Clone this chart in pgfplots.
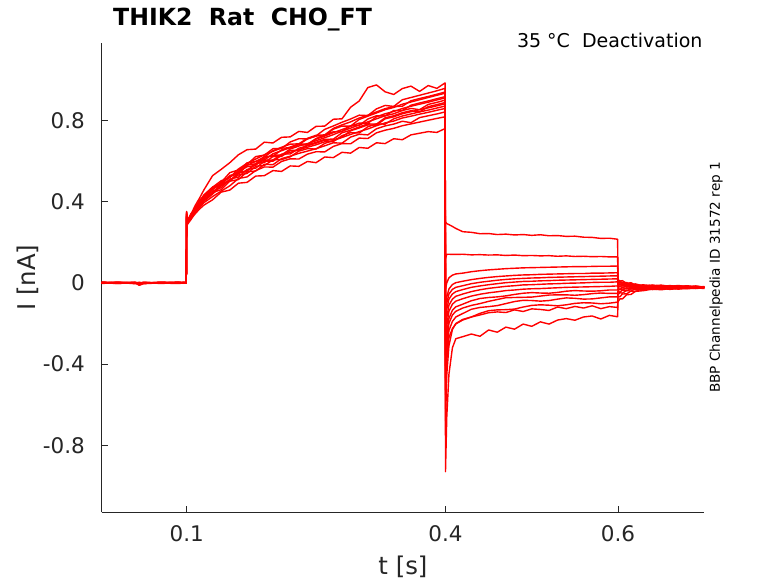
\documentclass[border=0pt]{standalone}
\usepackage{pgfplots}
\pgfplotsset{compat=1.18}
\usepackage{pgfplotstable}
\usepackage{fontspec}
\setmainfont{DejaVu Sans}
\definecolor{axgray}{HTML}{262626}

\pgfplotstableread{
t a b c d e f g h i j k l m n
0.0015 0.002 -0.001 0.003 0.000 -0.002 0.001 0.004 -0.003 0.002 -0.001 0.000 0.003 -0.002 0.001
0.020 -0.002 0.003 0.000 -0.003 0.002 -0.001 0.001 0.002 -0.003 0.004 -0.001 0.000 0.002 -0.002
0.040 0.001 -0.002 0.002 0.001 -0.004 0.003 -0.001 0.000 0.002 -0.003 0.001 -0.002 0.003 0.000
0.045 -0.003 0.000 -0.002 -0.012 0.001 -0.004 0.002 -0.010 -0.001 0.002 -0.003 0.001 -0.002 0.002
0.050 0.002 0.001 -0.001 -0.004 0.000 0.002 -0.003 -0.002 0.003 -0.001 0.002 -0.003 0.001 -0.002
0.070 -0.001 0.002 0.003 0.000 -0.002 -0.001 0.002 0.003 -0.002 0.001 -0.003 0.002 0.000 0.003
0.090 0.003 -0.002 0.000 0.002 0.001 -0.003 0.000 -0.001 0.003 0.002 0.001 -0.002 0.004 -0.001
0.0995 0.000 0.002 -0.002 0.001 0.003 0.000 -0.002 0.002 0.000 -0.002 0.003 0.001 -0.001 0.002
0.1000 0.318 0.352 0.329 0.341 0.325 0.336 0.347 0.322 0.338 0.316 0.344 0.331 0.327 0.349
0.1005 0.292 0.305 0.298 0.287 0.301 0.295 0.309 0.291 0.299 0.286 0.303 0.294 0.297 0.306
0.105 0.315 0.338 0.322 0.331 0.319 0.334 0.327 0.316 0.341 0.312 0.329 0.336 0.321 0.333
0.110 0.341 0.382 0.358 0.352 0.371 0.349 0.368 0.362 0.359 0.347 0.369 0.372 0.351 0.366
0.115 0.364 0.418 0.389 0.383 0.402 0.379 0.391 0.395 0.408 0.372 0.398 0.404 0.382 0.401
0.120 0.383 0.458 0.412 0.409 0.428 0.402 0.431 0.418 0.422 0.395 0.424 0.433 0.407 0.426
0.130 0.409 0.528 0.445 0.442 0.466 0.437 0.471 0.452 0.461 0.425 0.459 0.472 0.443 0.463
0.140 0.447 0.559 0.459 0.488 0.482 0.478 0.503 0.469 0.495 0.452 0.491 0.488 0.485 0.494
0.150 0.457 0.592 0.501 0.503 0.529 0.507 0.519 0.511 0.543 0.478 0.521 0.522 0.501 0.526
0.160 0.491 0.631 0.509 0.542 0.539 0.531 0.561 0.521 0.556 0.514 0.548 0.549 0.540 0.537
0.170 0.495 0.656 0.547 0.553 0.581 0.539 0.589 0.559 0.583 0.522 0.572 0.591 0.550 0.578
0.180 0.526 0.659 0.551 0.588 0.586 0.574 0.610 0.565 0.622 0.553 0.579 0.598 0.585 0.599
0.190 0.528 0.693 0.584 0.593 0.623 0.578 0.631 0.599 0.629 0.571 0.614 0.620 0.604 0.605
0.200 0.553 0.689 0.582 0.622 0.624 0.606 0.648 0.599 0.661 0.570 0.628 0.651 0.605 0.636
0.210 0.549 0.717 0.612 0.623 0.655 0.607 0.664 0.628 0.662 0.598 0.630 0.668 0.634 0.651
0.220 0.576 0.719 0.624 0.652 0.669 0.621 0.665 0.643 0.694 0.611 0.659 0.683 0.635 0.666
0.230 0.574 0.746 0.638 0.653 0.685 0.649 0.681 0.656 0.710 0.610 0.674 0.685 0.663 0.681
0.240 0.598 0.741 0.649 0.679 0.683 0.661 0.709 0.668 0.709 0.634 0.686 0.712 0.675 0.679
0.250 0.592 0.771 0.661 0.692 0.711 0.659 0.723 0.680 0.724 0.646 0.700 0.727 0.688 0.708
0.260 0.620 0.772 0.675 0.707 0.728 0.687 0.725 0.695 0.756 0.645 0.715 0.729 0.703 0.723
0.270 0.617 0.806 0.690 0.708 0.744 0.701 0.757 0.696 0.773 0.672 0.730 0.761 0.704 0.740
0.280 0.643 0.808 0.688 0.739 0.745 0.716 0.772 0.725 0.791 0.686 0.747 0.778 0.718 0.755
0.290 0.639 0.865 0.718 0.752 0.774 0.731 0.772 0.740 0.807 0.685 0.762 0.793 0.749 0.771
0.300 0.667 0.896 0.732 0.768 0.776 0.745 0.805 0.738 0.826 0.713 0.778 0.812 0.763 0.787
0.310 0.663 0.962 0.729 0.783 0.807 0.758 0.821 0.769 0.824 0.711 0.793 0.826 0.778 0.786
0.320 0.690 0.975 0.759 0.782 0.823 0.774 0.837 0.783 0.857 0.739 0.808 0.842 0.777 0.818
0.330 0.686 0.941 0.773 0.813 0.822 0.788 0.853 0.782 0.874 0.752 0.823 0.858 0.808 0.833
0.340 0.710 0.928 0.782 0.823 0.849 0.797 0.864 0.808 0.869 0.761 0.833 0.869 0.818 0.844
0.350 0.705 0.957 0.796 0.838 0.849 0.812 0.880 0.822 0.902 0.774 0.849 0.870 0.833 0.859
0.360 0.729 0.969 0.789 0.848 0.875 0.821 0.891 0.832 0.913 0.783 0.859 0.897 0.843 0.870
0.370 0.737 0.943 0.814 0.842 0.886 0.831 0.902 0.842 0.924 0.792 0.853 0.908 0.853 0.880
0.380 0.745 0.972 0.823 0.868 0.896 0.840 0.913 0.851 0.935 0.801 0.879 0.918 0.862 0.890
0.390 0.741 0.958 0.832 0.878 0.907 0.850 0.924 0.861 0.946 0.810 0.889 0.929 0.872 0.901
0.3995 0.760 0.985 0.842 0.888 0.917 0.859 0.934 0.871 0.958 0.818 0.900 0.940 0.882 0.911
0.4000 0.300 0.120 -0.030 -0.120 -0.180 -0.240 -0.300 -0.360 -0.420 -0.480 -0.550 -0.620 -0.680 -0.930
0.4015 0.292 0.141 0.000 -0.070 -0.100 -0.130 -0.170 -0.210 -0.250 -0.290 -0.330 -0.380 -0.450 -0.660
0.404 0.287 0.141 0.025 -0.030 -0.055 -0.080 -0.110 -0.140 -0.175 -0.200 -0.235 -0.270 -0.310 -0.450
0.408 0.278 0.140 0.038 -0.008 -0.032 -0.055 -0.080 -0.105 -0.135 -0.158 -0.190 -0.225 -0.230 -0.320
0.412 0.268 0.140 0.044 0.001 -0.022 -0.043 -0.066 -0.090 -0.118 -0.140 -0.168 -0.202 -0.200 -0.275
0.42 0.252 0.141 0.048 0.008 -0.014 -0.033 -0.055 -0.078 -0.105 -0.124 -0.151 -0.183 -0.180 -0.265
0.43 0.249 0.138 0.055 0.016 -0.004 -0.022 -0.043 -0.065 -0.088 -0.111 -0.130 -0.168 -0.168 -0.252
0.44 0.242 0.139 0.060 0.022 0.003 -0.015 -0.034 -0.056 -0.077 -0.102 -0.121 -0.150 -0.158 -0.263
0.45 0.243 0.137 0.064 0.027 0.008 -0.009 -0.027 -0.049 -0.072 -0.091 -0.117 -0.137 -0.147 -0.232
0.46 0.238 0.138 0.067 0.031 0.013 -0.004 -0.022 -0.044 -0.069 -0.082 -0.112 -0.133 -0.143 -0.243
0.47 0.240 0.135 0.070 0.034 0.017 0.001 -0.017 -0.038 -0.064 -0.073 -0.102 -0.132 -0.146 -0.218
0.48 0.236 0.137 0.072 0.037 0.020 0.004 -0.014 -0.035 -0.057 -0.072 -0.092 -0.129 -0.133 -0.228
0.49 0.238 0.134 0.074 0.039 0.022 0.007 -0.010 -0.031 -0.051 -0.071 -0.086 -0.119 -0.141 -0.203
0.50 0.234 0.135 0.075 0.040 0.024 0.008 -0.009 -0.029 -0.048 -0.070 -0.087 -0.111 -0.128 -0.214
0.51 0.237 0.133 0.076 0.042 0.025 0.010 -0.007 -0.028 -0.050 -0.065 -0.090 -0.108 -0.131 -0.192
0.52 0.232 0.134 0.077 0.043 0.027 0.011 -0.005 -0.026 -0.051 -0.060 -0.087 -0.110 -0.136 -0.203
0.53 0.233 0.131 0.078 0.044 0.028 0.013 -0.004 -0.024 -0.047 -0.059 -0.080 -0.113 -0.119 -0.183
0.54 0.229 0.133 0.079 0.045 0.029 0.014 -0.002 -0.022 -0.041 -0.059 -0.074 -0.108 -0.127 -0.176
0.55 0.230 0.130 0.080 0.046 0.030 0.015 -0.001 -0.021 -0.038 -0.061 -0.076 -0.101 -0.116 -0.184
0.56 0.225 0.131 0.080 0.046 0.031 0.016 0.000 -0.020 -0.040 -0.058 -0.080 -0.098 -0.124 -0.168
0.57 0.224 0.129 0.081 0.048 0.032 0.017 0.002 -0.019 -0.041 -0.053 -0.079 -0.099 -0.113 -0.163
0.58 0.219 0.130 0.082 0.048 0.033 0.018 0.003 -0.018 -0.039 -0.050 -0.074 -0.103 -0.127 -0.178
0.59 0.220 0.128 0.082 0.049 0.034 0.019 0.003 -0.017 -0.035 -0.052 -0.069 -0.100 -0.117 -0.160
0.5995 0.215 0.128 0.083 0.050 0.035 0.020 0.005 -0.015 -0.035 -0.052 -0.069 -0.095 -0.121 -0.167
0.600 0.018 0.006 0.009 -0.004 -0.002 -0.014 -0.011 -0.024 -0.027 -0.039 -0.041 -0.059 -0.066 -0.094
0.602 0.008 0.011 -0.001 0.002 -0.010 -0.007 -0.019 -0.016 -0.033 -0.030 -0.047 -0.048 -0.069 -0.079
0.605 0.011 -0.001 0.003 -0.008 -0.004 -0.016 -0.012 -0.024 -0.024 -0.036 -0.035 -0.051 -0.055 -0.079
0.610 -0.003 0.002 -0.009 -0.004 -0.015 -0.010 -0.021 -0.016 -0.030 -0.025 -0.039 -0.037 -0.054 -0.058
0.615 0.001 -0.010 -0.004 -0.015 -0.009 -0.019 -0.014 -0.024 -0.021 -0.031 -0.028 -0.041 -0.040 -0.057
0.620 -0.011 -0.005 -0.015 -0.009 -0.018 -0.012 -0.022 -0.016 -0.028 -0.022 -0.033 -0.029 -0.042 -0.042
0.630 -0.010 -0.016 -0.013 -0.022 -0.018 -0.025 -0.015 -0.028 -0.021 -0.030 -0.024 -0.034 -0.027 -0.038
0.640 -0.014 -0.012 -0.019 -0.017 -0.024 -0.020 -0.011 -0.025 -0.027 -0.023 -0.029 -0.031 -0.033 -0.030
0.650 -0.011 -0.019 -0.016 -0.023 -0.020 -0.014 -0.017 -0.021 -0.024 -0.028 -0.026 -0.027 -0.030 -0.034
0.660 -0.017 -0.015 -0.022 -0.019 -0.013 -0.018 -0.023 -0.016 -0.029 -0.025 -0.021 -0.032 -0.026 -0.028
0.670 -0.013 -0.021 -0.018 -0.015 -0.019 -0.024 -0.020 -0.022 -0.025 -0.020 -0.027 -0.028 -0.031 -0.024
0.680 -0.019 -0.017 -0.014 -0.021 -0.023 -0.019 -0.016 -0.026 -0.021 -0.027 -0.023 -0.025 -0.027 -0.029
0.690 -0.015 -0.022 -0.020 -0.018 -0.017 -0.025 -0.022 -0.019 -0.026 -0.022 -0.028 -0.021 -0.024 -0.026
0.700 -0.021 -0.018 -0.023 -0.020 -0.022 -0.019 -0.025 -0.021 -0.022 -0.025 -0.024 -0.023 -0.028 -0.022
}\traces

\begin{document}
\begin{tikzpicture}
\useasboundingbox (-101.7pt,-70.7pt) rectangle (676.3pt,512.3pt);
\begin{axis}[
  name=ax, at={(0pt,0pt)}, anchor=south west,
  scale only axis, width=602.6pt, height=469pt,
  xmin=0.0015, xmax=0.7, ymin=-1.13, ymax=1.18,
  axis x line=bottom, axis y line=left,
  axis line style={-, draw=axgray, line width=0.9pt},
  tick align=inside, major tick length=6pt,
  tick style={draw=axgray, line width=0.9pt},
  xtick={0.1,0.4,0.6}, xticklabels={0.1,0.4,0.6},
  ytick={-0.8,-0.4,0,0.4,0.8}, yticklabels={-0.8,-0.4,0,0.4,0.8},
  ticklabel style={font=\fontsize{21.5}{25}\selectfont, text=axgray, inner sep=0pt},
  xticklabel style={anchor=base, yshift=-29.4pt},
  yticklabel style={anchor=east, xshift=-16.7pt},
  clip=false,
]
\pgfplotsinvokeforeach{a,b,c,d,e,f,g,h,i,j,k,l,m,n}{
  \addplot[draw=red, line width=1.4pt, no markers, line join=round] table[x=t,y=#1]{\traces};
}
\end{axis}
\node[font=\fontsize{24.4}{29}\selectfont, text=axgray, anchor=center] at ([yshift=-54.7pt]ax.south) {t [s]};
\node[font=\fontsize{24.4}{29}\selectfont, text=axgray, anchor=center, rotate=90] at ([xshift=-73.7pt]ax.west) {I [nA]};
\node[font=\bfseries\fontsize{23.6}{28}\selectfont, anchor=base west, inner sep=0pt] at ([xshift=11.3pt,yshift=17.3pt]ax.north west) {THIK2\ \ Rat\ \ CHO\_FT};
\node[font=\fontsize{19.0}{23}\selectfont, anchor=base east, inner sep=0pt] at ([xshift=-1.6pt,yshift=-4pt]ax.north east) {35 °C\ \ Deactivation};
\node[font=\fontsize{13.6}{16}\selectfont, anchor=center, rotate=90, inner sep=0pt] at ([xshift=11.7pt,yshift=0.5pt]ax.east) {BBP Channelpedia ID 31572 rep 1};
\end{tikzpicture}
\end{document}
